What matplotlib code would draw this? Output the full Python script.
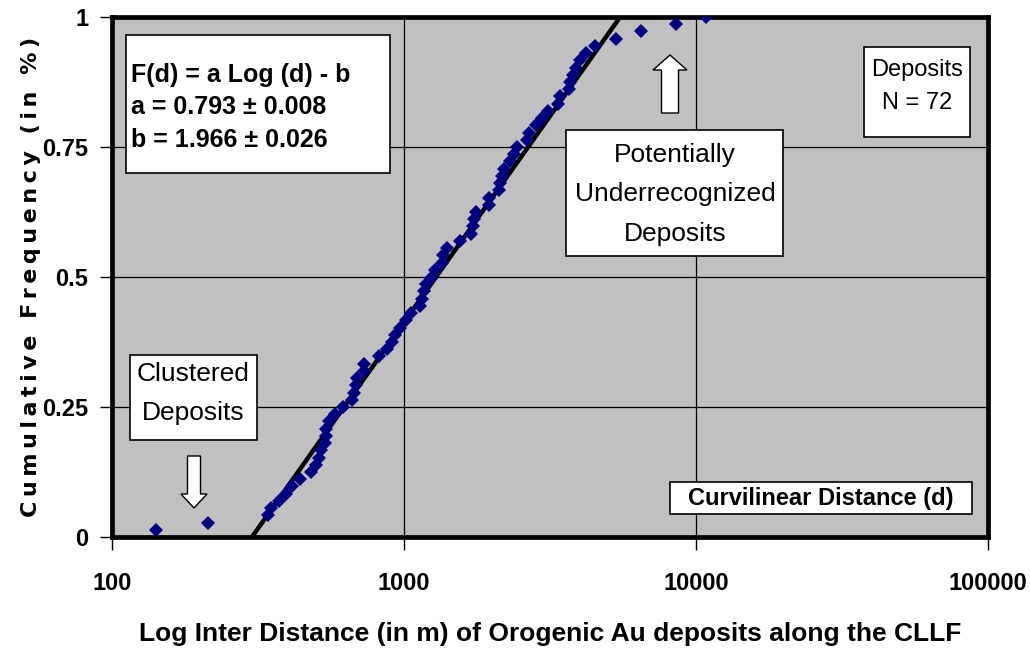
import numpy as np
import matplotlib
matplotlib.use('Agg')
import matplotlib.pyplot as plt
from matplotlib.patches import Rectangle, FancyArrow

plt.rcParams['font.family'] = ['Liberation Sans', 'DejaVu Sans']

# data: inter-distances (m) of the 72 deposits, sorted
dist = [142, 213,
        341, 349, 372, 393, 415, 442, 482, 501, 513, 521, 537, 542, 542, 555,
        581, 619, 665, 675, 686, 691, 730, 730,
        821, 875, 910, 932, 969, 1016, 1056, 1134, 1152, 1171, 1189, 1250,
        1276, 1348, 1359, 1402, 1553, 1693, 1720, 1734, 1761, 1950, 1950,
        2110, 2126, 2160, 2194, 2300, 2374, 2431, 2629, 2671, 2821, 2958, 3101,
        3381, 3435, 3686, 3715, 3804, 3894, 4018, 4213, 4521,
        5333, 6493, 8545, 10817]
n = len(dist)
freq = np.arange(1, n + 1) / n

# fit F(d) = a log(d) - b
a = 0.793
b = 1.966
fit_d = [10**(b / a), 10**((1 + b) / a)]
fit_f = [0, 1]

xticks = [100, 1000, 10000, 100000]
xticklabels = ['100', '1000', '10000', '100000']
yticks = [0, 0.25, 0.5, 0.75, 1]
yticklabels = ['0', '0.25', '0.5', '0.75', '1']

W, H = 1030, 655
fig = plt.figure(figsize=(W / 100, H / 100), dpi=100)
ax = fig.add_axes([112 / W, 1 - 537 / H, 876 / W, 520 / H])
ax.set_facecolor('#c0c0c0')
ax.set_xscale('log')
ax.set_xlim(100, 100000)
ax.set_ylim(0, 1)

ax.grid(True, which='major', color='black', lw=0.9)
ax.set_axisbelow(True)
ax.plot(fit_d, fit_f, color='black', lw=3.2, zorder=3)
ax.plot(dist, freq, 'D', color='#000080', markersize=7, markeredgewidth=0, zorder=4)

for s in ax.spines.values():
    s.set_linewidth(3.4)

ax.set_xticks(xticks)
ax.set_xticklabels(xticklabels, fontsize=17, fontweight='bold')
ax.minorticks_off()
ax.set_yticks(yticks)
ax.set_yticklabels(yticklabels, fontsize=17, fontweight='bold')
ax.tick_params(axis='x', direction='out', length=9, width=1, pad=16)
ax.tick_params(axis='y', direction='out', length=9, width=1, pad=8)

ax.set_xlabel('Log Inter Distance (in m) of Orogenic Au deposits along the CLLF',
              fontsize=19, fontweight='bold', labelpad=20)
ylab = '\u2009'.join('Cumulative Frequency (in %)')
ax.set_ylabel(ylab, fontsize=16, fontweight='bold', labelpad=1, family=['DejaVu Sans'])


# annotation helpers in figure pixels (top-left origin)
def px(x, y):
    return x / W, 1 - y / H


def box(x0, y0, x1, y1):
    fig.patches.append(Rectangle(px(x0, y1), (x1 - x0) / W, (y1 - y0) / H,
                                 transform=fig.transFigure, fc='white', ec='black',
                                 lw=1.2, zorder=5))


def label(x, y, s, **kw):
    fig.text(*px(x, y), s, va='center', zorder=6, **kw)


box(126, 35, 390, 173)
label(131, 75, 'F(d) = a Log (d) - b', fontsize=18, fontweight='bold')
label(131, 107, 'a = 0.793 \u00b1 0.008', fontsize=18, fontweight='bold')
label(131, 140, 'b = 1.966 \u00b1 0.026', fontsize=18, fontweight='bold')

box(864, 47, 970, 137)
label(917, 70, 'Deposits', fontsize=17, ha='center')
label(917, 103, 'N = 72', fontsize=17, ha='center')

box(566, 130, 783, 256)
label(675, 155, 'Potentially', fontsize=19, ha='center')
label(675, 194, 'Underrecognized', fontsize=19, ha='center')
label(675, 234, 'Deposits', fontsize=19, ha='center')

box(130, 355, 257, 440)
label(193, 374, 'Clustered', fontsize=19, ha='center')
label(193, 413, 'Deposits', fontsize=19, ha='center')

box(670, 482, 972, 514)
label(821, 498, 'Curvilinear Distance (d)', fontsize=17, fontweight='bold', ha='center')

# block arrows (inches)
fig.patches.append(FancyArrow(6.70, 5.42, 0, 0.58, width=0.17, head_width=0.34,
                              head_length=0.15, length_includes_head=True,
                              transform=fig.dpi_scale_trans, fc='white', ec='black',
                              lw=1, zorder=5))
fig.patches.append(FancyArrow(1.94, 1.99, 0, -0.52, width=0.13, head_width=0.26,
                              head_length=0.14, length_includes_head=True,
                              transform=fig.dpi_scale_trans, fc='white', ec='black',
                              lw=1, zorder=5))

fig.savefig('out.png', dpi=100)
